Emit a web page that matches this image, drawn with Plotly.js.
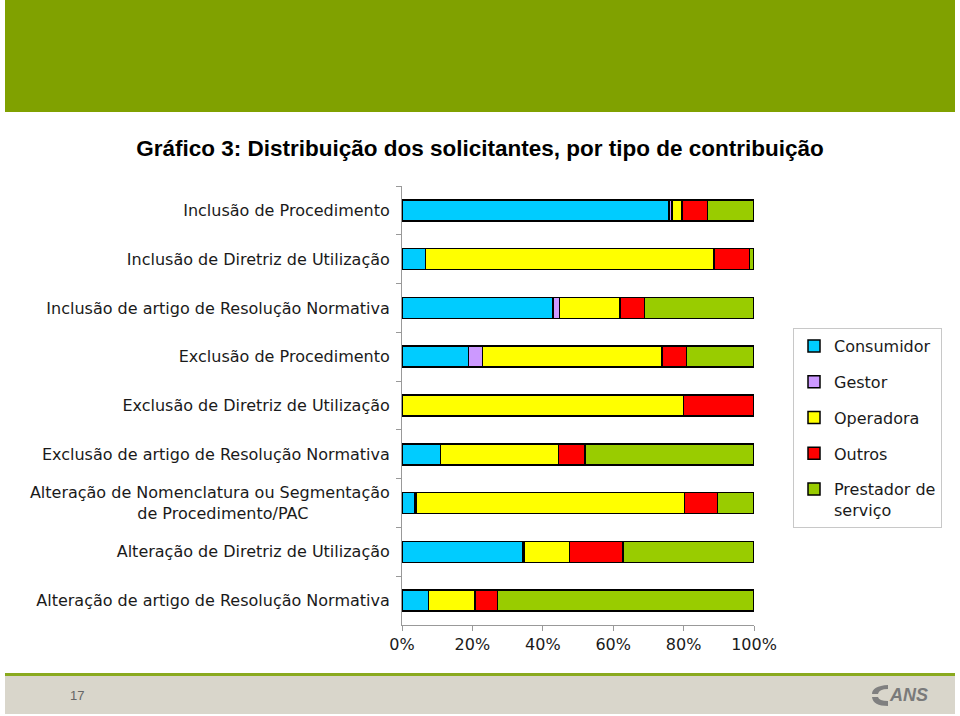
<!DOCTYPE html>
<html>
<head>
<meta charset="utf-8">
<script src="https://cdn.plot.ly/plotly-3.0.1.min.js"></script>
<style>
  html, body { margin: 0; padding: 0; background: #ffffff; }
  #chart { width: 960px; height: 716px; }
</style>
</head>
<body>
<div id="chart"></div>
<script>
const categories = [
  "Inclusão de Procedimento",
  "Inclusão de Diretriz de Utilização",
  "Inclusão de artigo de Resolução Normativa",
  "Exclusão de Procedimento",
  "Exclusão de Diretriz de Utilização",
  "Exclusão de artigo de Resolução Normativa",
  "Alteração de Nomenclatura ou Segmentação<br>de Procedimento/PAC\u00A0\u00A0\u00A0\u00A0\u00A0\u00A0\u00A0\u00A0\u00A0\u00A0\u00A0\u00A0\u00A0\u00A0\u00A0\u00A0",
  "Alteração de Diretriz de Utilização",
  "Alteração de artigo de Resolução Normativa"
];
const seriesNames = ["Consumidor", "Gestor", "Operadora", "Outros", "Prestador de<br>serviço"];
const consumidor = [75.9, 6.7, 42.9, 18.9, 0, 11.0, 3.5, 34.2, 7.5];
const gestor     = [0.8, 0, 1.9, 3.9, 0, 0, 0.5, 0.4, 0];
const operadora  = [2.8, 81.9, 17.2, 51.1, 79.9, 33.4, 76.2, 13.0, 13.2];
const outros     = [7.3, 10.1, 6.9, 6.9, 20.1, 7.6, 9.5, 15.2, 6.5];
const prestador  = [13.2, 1.3, 31.1, 19.2, 0, 48.0, 10.3, 37.2, 72.8];
const xTickVals  = [0, 20, 40, 60, 80, 100];
const xTickText  = ["0%", "20%", "40%", "60%", "80%", "100%"];
const pageNumber = "17";

const colors = ["#00CCFF", "#CC99FF", "#FFFF00", "#FF0000", "#99CC00"];
const seriesValues = [consumidor, gestor, operadora, outros, prestador];

// plot area in pixels
const L = 402, R = 754, T = 186, B = 625;
const W = R - L, H = B - T;
const px = x => (x - L) / W;
const py = y => (B - y) / H;

const traces = seriesValues.map((vals, i) => ({
  type: "bar",
  orientation: "h",
  name: seriesNames[i],
  legendgroup: "g" + i,
  y: categories,
  x: vals.map(v => v === 0 ? null : v),
  marker: { color: colors[i], line: { color: "#000000", width: 1.5 } },
  hoverinfo: "skip"
}));

const labelFont = { family: "DejaVu Sans", size: 16, color: "#1a1a1a" };

const layout = {
  width: 960,
  height: 716,
  margin: { l: L, r: 960 - R, t: T, b: 716 - B, pad: 0 },
  paper_bgcolor: "rgba(0,0,0,0)",
  plot_bgcolor: "rgba(0,0,0,0)",
  barmode: "stack",
  bargap: 0.57,
  showlegend: true,
  title: {
    text: "<b>Gráfico 3: Distribuição dos solicitantes, por tipo de contribuição</b>",
    font: { family: "Liberation Sans", size: 22.5, color: "#000000" },
    x: 0.5, xref: "container", xanchor: "center",
    y: 1 - 148 / 716, yref: "container", yanchor: "middle"
  },
  xaxis: {
    range: [0, 100],
    tickvals: xTickVals,
    ticktext: xTickText,
    showgrid: false,
    zeroline: false,
    showline: true,
    linecolor: "#999999",
    linewidth: 1,
    ticks: "outside",
    ticklen: 5,
    tickcolor: "#999999",
    tickfont: labelFont,
    fixedrange: true
  },
  yaxis: {
    type: "category",
    autorange: "reversed",
    showgrid: false,
    zeroline: false,
    showline: true,
    linecolor: "#999999",
    linewidth: 1,
    ticks: "outside",
    tickson: "boundaries",
    ticklen: 5,
    tickcolor: "#999999",
    tickfont: labelFont,
    ticklabelstandoff: 8,
    fixedrange: true
  },
  legend: {
    x: px(793), y: py(328),
    xanchor: "left", yanchor: "top",
    bgcolor: "#ffffff",
    bordercolor: "#c8c8c8",
    borderwidth: 1,
    font: labelFont,
    traceorder: "grouped",
    tracegroupgap: 12,
    valign: "top"
  },
  shapes: [
    { type: "rect", xref: "paper", yref: "paper", layer: "below",
      x0: px(5), x1: px(955), y0: py(112), y1: py(0),
      fillcolor: "#80A100", line: { width: 0 } },
    { type: "rect", xref: "paper", yref: "paper", layer: "below",
      x0: px(5), x1: px(955), y0: py(714), y1: py(676),
      fillcolor: "#D9D6CB", line: { width: 0 } },
    { type: "rect", xref: "paper", yref: "paper", layer: "below",
      x0: px(5), x1: px(955), y0: py(676), y1: py(673),
      fillcolor: "#8AAA1E", line: { width: 0 } },
    { type: "path", xref: "paper", yref: "paper", layer: "above",
      path: "M" + px(888) + "," + py(685) + " Q" + px(872) + "," + py(686) + " " + px(872) + "," + py(694) +
            " L" + px(878) + "," + py(694) + " Q" + px(879) + "," + py(689) + " " + px(888) + "," + py(689) + " Z",
      fillcolor: "#808080", line: { width: 0 } },
    { type: "path", xref: "paper", yref: "paper", layer: "above",
      path: "M" + px(872) + "," + py(697) + " Q" + px(873) + "," + py(706) + " " + px(888) + "," + py(706) +
            " L" + px(888) + "," + py(701) + " Q" + px(879) + "," + py(701) + " " + px(878) + "," + py(697) + " Z",
      fillcolor: "#808080", line: { width: 0 } }
  ],
  annotations: [
    { xref: "paper", yref: "paper", x: px(77), y: py(695), text: pageNumber,
      showarrow: false, xanchor: "center", yanchor: "middle",
      font: { family: "Liberation Sans", size: 13, color: "#666666" } },
    { xref: "paper", yref: "paper", x: px(887), y: py(695), text: "<b><i>ANS</i></b>",
      showarrow: false, xanchor: "left", yanchor: "middle",
      font: { family: "Liberation Sans Narrow, Liberation Sans", size: 18, color: "#7a7a7a" } }
  ]
};

Plotly.newPlot("chart", traces, layout, { displayModeBar: false, staticPlot: true });
</script>
</body>
</html>
